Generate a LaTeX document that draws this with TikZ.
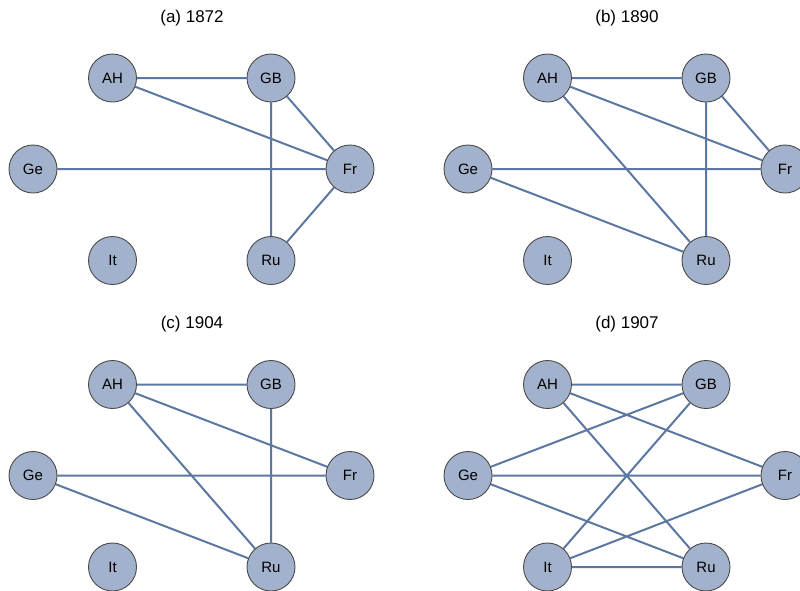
\documentclass[tikz,border=0pt]{standalone}
\usepackage{fontspec}
\setmainfont{Liberation Sans}
\usetikzlibrary{backgrounds}
\definecolor{nodefill}{HTML}{A3B2CC}
\definecolor{nodeedge}{HTML}{4A4A4A}
\definecolor{edgecol}{HTML}{5B77A2}
\tikzset{
  country/.style={circle, minimum size=48pt, inner sep=0pt, fill=nodefill, draw=nodeedge, line width=0.9pt, font=\fontsize{15}{15}\selectfont},
  link/.style={draw=edgecol, line width=2pt},
  paneltitle/.style={font=\fontsize{17}{17}\selectfont, inner sep=0pt}
}
\newcommand{\mypanel}[4]{%
  \node[paneltitle] (#1t) at (#2+192, #3+18) {#4};
  \node[country] (#1AH) at (#2+112.5, #3+78) {AH};
  \node[country] (#1GB) at (#2+271, #3+78) {GB};
  \node[country] (#1Ge) at (#2+33, #3+169) {Ge};
  \node[country] (#1Fr) at (#2+350, #3+169) {Fr};
  \node[country] (#1It) at (#2+112.5, #3+260.5) {It};
  \node[country] (#1Ru) at (#2+271, #3+260.5) {Ru};
}
\begin{document}
\begin{tikzpicture}[x=1pt, y=-1pt]
\useasboundingbox (0,0) rectangle (800,590);
\clip (0,0) rectangle (800,590);
\mypanel{a}{0}{0}{(a) 1872}
\mypanel{b}{435}{0}{(b) 1890}
\mypanel{c}{0}{306.5}{(c) 1904}
\mypanel{d}{435}{306.5}{(d) 1907}
\begin{pgfonlayer}{background}
\fill[white] (0,0) rectangle (800,590);
% (a) 1872
\path[link] (aAH) -- (aGB) (aAH) -- (aFr) (aGB) -- (aFr) (aGB) -- (aRu) (aGe) -- (aFr) (aFr) -- (aRu);
% (b) 1890
\path[link] (bAH) -- (bGB) (bAH) -- (bFr) (bAH) -- (bRu) (bGB) -- (bFr) (bGB) -- (bRu) (bGe) -- (bFr) (bGe) -- (bRu);
% (c) 1904
\path[link] (cAH) -- (cGB) (cAH) -- (cFr) (cAH) -- (cRu) (cGB) -- (cRu) (cGe) -- (cFr) (cGe) -- (cRu);
% (d) 1907
\path[link] (dAH) -- (dGB) (dAH) -- (dFr) (dAH) -- (dRu) (dGe) -- (dGB) (dGe) -- (dFr) (dGe) -- (dRu) (dIt) -- (dGB) (dIt) -- (dFr) (dIt) -- (dRu);
\end{pgfonlayer}
\end{tikzpicture}
\end{document}
